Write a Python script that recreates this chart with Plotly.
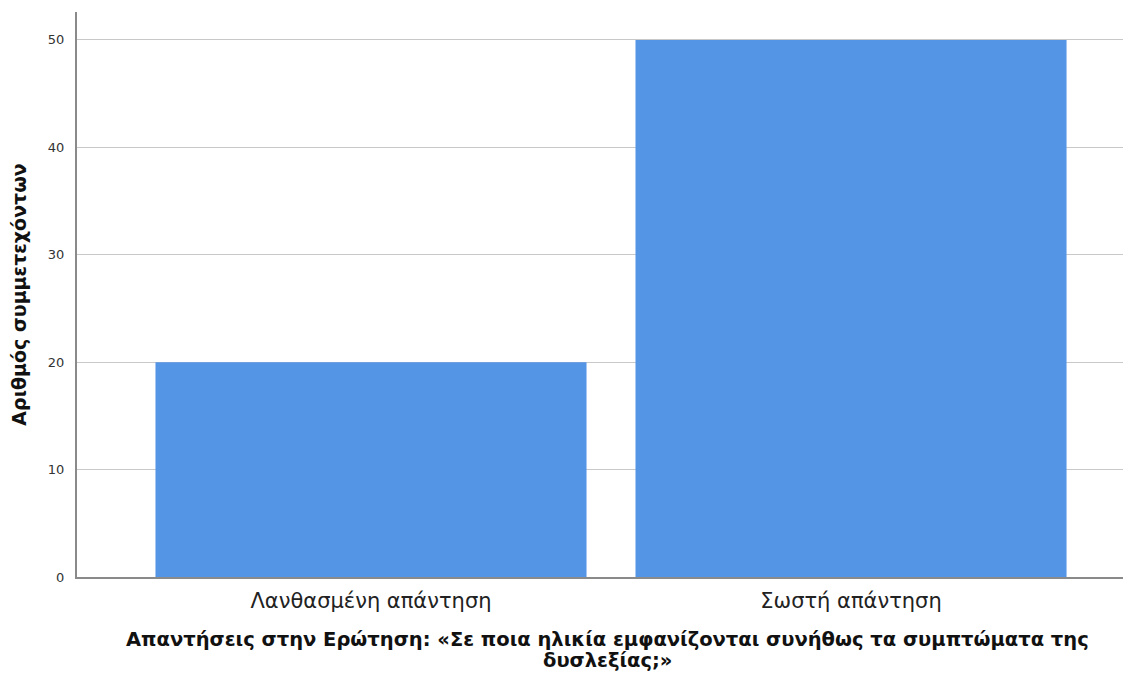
import plotly.graph_objects as go

categories = ["Λανθασμένη απάντηση", "Σωστή απάντηση"]
values = [20, 50]
y_ticks = [0, 10, 20, 30, 40, 50]
y_title = "Αριθμός συμμετεχόντων"
x_title_lines = ["Απαντήσεις στην Ερώτηση: «Σε ποια ηλικία εμφανίζονται συνήθως τα συμπτώματα της",
                 "δυσλεξίας;»"]

xpos = list(range(len(categories)))

fig = go.Figure(go.Bar(
    x=xpos, y=values, width=0.898,
    marker=dict(color="#5595e5", line=dict(width=0)),
))

fig.update_layout(
    width=1123, height=665,
    margin=dict(l=69, r=0, t=4, b=96),
    plot_bgcolor="white", paper_bgcolor="white",
    showlegend=False,
    font=dict(family="DejaVu Sans", color="#222"),
    xaxis=dict(
        range=[-0.6125, 1.5833], tickvals=xpos, ticktext=categories,
        showgrid=False, zeroline=False, showline=True, linecolor="#8a8a8a", linewidth=2,
        ticks="", tickfont=dict(size=21, color="#222"), ticklabelstandoff=4,
    ),
    yaxis=dict(
        range=[0, 52.6], tickvals=y_ticks,
        showgrid=True, gridcolor="#c8c8c8", gridwidth=1, zeroline=False,
        showline=True, linecolor="#8a8a8a", linewidth=2, ticks="",
        tickfont=dict(size=13, color="#333"), ticklabelstandoff=8,
        title=dict(text=y_title, font=dict(size=19, color="#111", weight="bold"), standoff=16),
    ),
    annotations=[
        dict(text=x_title_lines[0], xref="paper", yref="paper", x=0.503, y=0,
             xanchor="center", yanchor="middle", yshift=-62, showarrow=False,
             font=dict(size=19.5, color="#111", weight="bold")),
        dict(text=x_title_lines[1], xref="paper", yref="paper", x=0.503, y=0,
             xanchor="center", yanchor="middle", yshift=-83, showarrow=False,
             font=dict(size=19.5, color="#111", weight="bold")),
    ],
)

fig.write_html("out.html")
